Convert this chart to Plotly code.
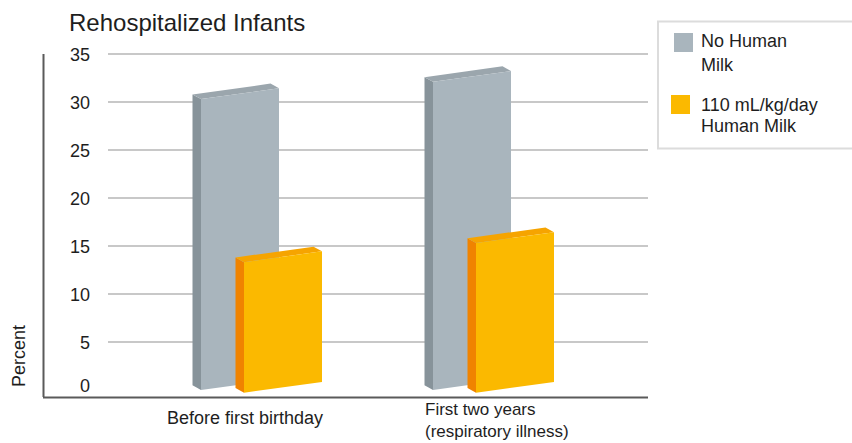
import plotly.graph_objects as go

# ---- data -------------------------------------------------------------
group_labels = ["Before first birthday", "First two years<br>(respiratory illness)"]
series_names = [["No Human", "Milk"], ["110 mL/kg/day", "Human Milk"]]
no_human_milk = [30.3, 32.1]
human_milk_110 = [13.6, 15.6]
y_ticks = [0, 5, 10, 15, 20, 25, 30, 35]

# ---- page / plot geometry (pixels) ---------------------------------------
W, H = 852, 443
PL, PR, PT, PB = 43, 648, 40, 397          # plot area edges
ZERO_PX, PX_PER_PCT = 390, 9.6             # y scale
G0_PX, PX_PER_GROUP = 258, 232             # x scale (group index -> px)

y_range = [(ZERO_PX - PB) / PX_PER_PCT, (ZERO_PX - PT) / PX_PER_PCT]
x_range = [(PL - G0_PX) / PX_PER_GROUP, (PR - G0_PX) / PX_PER_GROUP]

def px_x(p):  # pixel distance -> x units
    return p / PX_PER_GROUP

def px_y(p):  # pixel distance -> y units
    return p / PX_PER_PCT

def paper_x(px):
    return (px - PL) / (PR - PL)

def paper_y(py):
    return (PB - py) / (PB - PT)

FONT = "Liberation Sans, Arial, sans-serif"
TXT = "#1e1e1e"

# pseudo-3D bar styling
BAR_W = px_x(78)
DEPTH_X, DEPTH_Y = px_x(-8.5), px_y(4.7)
SKEW = px_y(10.8)
styles = [
    dict(offset=px_x(-57), base=0.0,
         front="#a9b5bd", side="#87939a", top="#9ba6ad"),
    dict(offset=px_x(-14), base=px_y(-2.7),
         front="#fbb900", side="#f08300", top="#f6a400"),
]
series_values = [no_human_milk, human_milk_110]

fig = go.Figure()

def poly(xs, ys, color):
    fig.add_trace(go.Scatter(
        x=xs + [xs[0]], y=ys + [ys[0]], mode="lines", fill="toself",
        fillcolor=color, line=dict(width=0, color=color),
        hoverinfo="skip", showlegend=False))

for values, st in zip(series_values, styles):
    for i, v in enumerate(values):
        xl = i + st["offset"]
        xr = xl + BAR_W
        b = st["base"]
        # left side face
        poly([xl + DEPTH_X, xl, xl, xl + DEPTH_X],
             [b + DEPTH_Y, b, b + v, b + v + DEPTH_Y], st["side"])
        # top face
        poly([xl, xr, xr + DEPTH_X, xl + DEPTH_X],
             [b + v, b + v + SKEW, b + v + SKEW + DEPTH_Y, b + v + DEPTH_Y], st["top"])
        # front face
        poly([xl, xr, xr, xl],
             [b, b + SKEW, b + v + SKEW, b + v], st["front"])

shapes = []
annotations = []

# horizontal grid lines
for t in y_ticks[1:]:
    shapes.append(dict(type="line", xref="paper", yref="y", layer="below",
                       x0=paper_x(108), x1=1, y0=t, y1=t,
                       line=dict(color="#c8c8c8", width=2)))
# axis lines
shapes.append(dict(type="line", xref="paper", yref="paper",
                   x0=paper_x(43.5), x1=paper_x(43.5), y0=paper_y(54), y1=0,
                   line=dict(color="#5a5a5a", width=2)))
shapes.append(dict(type="line", xref="paper", yref="paper",
                   x0=paper_x(43), x1=1, y0=paper_y(397.5), y1=paper_y(397.5),
                   line=dict(color="#5a5a5a", width=2)))

# y tick labels
for t in y_ticks:
    annotations.append(dict(xref="paper", yref="y", x=paper_x(92), y=t,
                            text=str(t), showarrow=False, xanchor="right",
                            yanchor="middle", yshift=4 if t == 0 else -1,
                            font=dict(family=FONT, size=18, color=TXT)))

# axis title
annotations.append(dict(xref="paper", yref="paper", x=paper_x(19), y=paper_y(356),
                        text="Percent", textangle=-90, showarrow=False,
                        xanchor="center", yanchor="middle",
                        font=dict(family=FONT, size=18, color=TXT)))

# chart title
annotations.append(dict(xref="paper", yref="paper", x=paper_x(67), y=paper_y(22.5),
                        text="Rehospitalized Infants", showarrow=False,
                        xanchor="left", yanchor="middle",
                        font=dict(family=FONT, size=24, color=TXT)))

# category labels
label_pos = [(244.5, "center", 418, 18), (423, "left", 420, 17)]
for text, (lx, anchor, ly, size) in zip(group_labels, label_pos):
    annotations.append(dict(xref="paper", yref="paper", x=paper_x(lx), y=paper_y(ly),
                            text=text, showarrow=False, xanchor=anchor, align="left",
                            yanchor="middle",
                            font=dict(family=FONT, size=size, color=TXT)))

# legend box
shapes.append(dict(type="rect", xref="paper", yref="paper",
                   x0=paper_x(658), x1=paper_x(870), y0=paper_y(21.5), y1=paper_y(148.5),
                   line=dict(color="#dcdcdc", width=2), fillcolor="white"))
legend_rows = [
    (styles[0]["front"], (674, 693, 33, 52), [41, 65]),
    (styles[1]["front"], (671, 690, 95, 114), [104.5, 126]),
]
for names, (col, (x0, x1, y0, y1), ys) in zip(series_names, legend_rows):
    shapes.append(dict(type="rect", xref="paper", yref="paper",
                       x0=paper_x(x0), x1=paper_x(x1), y0=paper_y(y0), y1=paper_y(y1),
                       line=dict(width=0), fillcolor=col))
    for line, ly in zip(names, ys):
        annotations.append(dict(xref="paper", yref="paper", x=paper_x(699), y=paper_y(ly),
                                text=line, showarrow=False, xanchor="left",
                                yanchor="middle",
                                font=dict(family=FONT, size=18, color=TXT)))

fig.update_layout(
    width=W, height=H,
    margin=dict(l=PL, r=W - PR, t=PT, b=H - PB, pad=0),
    paper_bgcolor="white", plot_bgcolor="white",
    xaxis=dict(range=x_range, visible=False, fixedrange=True),
    yaxis=dict(range=y_range, visible=False, fixedrange=True),
    shapes=shapes, annotations=annotations, showlegend=False,
)

fig.write_html("out.html")
